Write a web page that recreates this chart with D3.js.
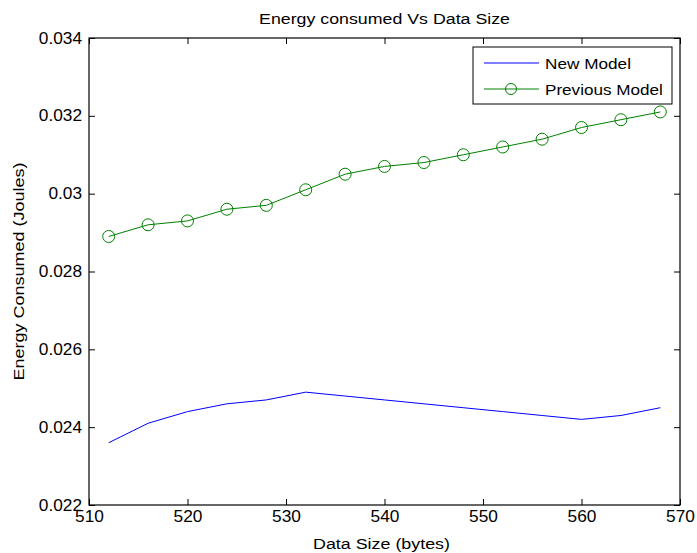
<!DOCTYPE html>
<html><head><meta charset="utf-8">
<script src="https://cdn.jsdelivr.net/npm/d3@7"></script>
<style>body{margin:0;background:#fff}svg{display:block}text{font-family:"Liberation Sans",Arial,sans-serif}</style>
</head><body>
<svg id="c" width="697" height="553"></svg>
<script>
const dataSize = [512,516,520,524,528,532,536,540,544,548,552,556,560,564,568];
const newModel = [0.0236,0.0241,0.0244,0.0246,0.0247,0.0249,0.0248,0.0247,0.0246,0.0245,0.0244,0.0243,0.0242,0.0243,0.0245];
const prevModel = [0.0289,0.0292,0.0293,0.0296,0.0297,0.0301,0.0305,0.0307,0.0308,0.0310,0.0312,0.0314,0.0317,0.0319,0.0321];
const xTicks = [510,520,530,540,550,560,570];
const yTicks = [0.022,0.024,0.026,0.028,0.030,0.032,0.034];
const yTickLabels = ["0.022","0.024","0.026","0.028","0.03","0.032","0.034"];
const seriesNames = ["New Model","Previous Model"];

const svg = d3.select("#c");
const L=89,R=680,T=38,B=505;
const x = d3.scaleLinear().domain([510,570]).range([L,R]);
const y = d3.scaleLinear().domain([0.022,0.034]).range([B,T]);

svg.append("rect").attr("x",L).attr("y",T).attr("width",R-L).attr("height",B-T).attr("fill","#fff");

const fs=16;
// horizontally stretch text glyphs to a target width (reference image is horizontally stretched)
function fitW(sel,w){sel.each(function(){const n=this.getComputedTextLength();const k=w/n;
  const t=d3.select(this);const xx=+t.attr("x")||0, yy=+t.attr("y")||0;
  t.attr("x",0).attr("y",0).attr("transform",`translate(${xx},${yy}) scale(${k},1)`);});}
function stretchK(sel,k){sel.each(function(){const t=d3.select(this);const xx=+t.attr("x")||0, yy=t.attr("dy");
  t.attr("transform",`scale(${k},1)`).attr("x",xx/k);});}

svg.append("g").attr("transform",`translate(0,${B})`).call(d3.axisBottom(x).tickValues(xTicks).tickSize(-6).tickPadding(6))
  .call(g=>{g.select(".domain").remove();g.selectAll("text").attr("font-size",fs).attr("fill","#000").attr("font-family","Liberation Sans, Arial, sans-serif").call(stretchK,1.08);});
svg.append("g").attr("transform",`translate(0,${T})`).call(d3.axisTop(x).tickValues(xTicks).tickSize(-6).tickFormat(""))
  .call(g=>g.select(".domain").remove());
svg.append("g").attr("transform",`translate(${L},0)`).call(d3.axisLeft(y).tickValues(yTicks).tickSize(-6).tickPadding(7).tickFormat((d,i)=>yTickLabels[i]))
  .call(g=>{g.select(".domain").remove();g.selectAll("text").attr("font-size",fs).attr("fill","#000").attr("font-family","Liberation Sans, Arial, sans-serif").call(stretchK,1.08);});
svg.append("g").attr("transform",`translate(${R},0)`).call(d3.axisRight(y).tickValues(yTicks).tickSize(-6).tickFormat(""))
  .call(g=>g.select(".domain").remove());
svg.selectAll(".tick line").attr("stroke","#000");
svg.append("rect").attr("x",L).attr("y",T).attr("width",R-L).attr("height",B-T).attr("fill","none").attr("stroke","#000").attr("stroke-width",1.2);

const line = d3.line().x((d,i)=>x(dataSize[i])).y(d=>y(d));
svg.append("path").datum(newModel).attr("d",line).attr("fill","none").attr("stroke","#0000ff").attr("stroke-width",1);
svg.append("path").datum(prevModel).attr("d",line).attr("fill","none").attr("stroke","#008000").attr("stroke-width",1);
svg.append("g").selectAll("circle").data(prevModel).join("circle")
  .attr("cx",(d,i)=>x(dataSize[i])).attr("cy",d=>y(d)).attr("r",6)
  .attr("fill","none").attr("stroke","#008000").attr("stroke-width",1);

// title and labels
svg.append("text").attr("x",(L+R)/2).attr("y",24).attr("text-anchor","middle").attr("font-size",14.5).text("Energy consumed Vs Data Size").call(fitW,251);
svg.append("text").attr("x",(L+R)/2-3).attr("y",549).attr("text-anchor","middle").attr("font-size",15).text("Data Size (bytes)").call(fitW,137);
svg.append("text").attr("x",0).attr("y",0).attr("transform",`translate(24,${(T+B)/2}) rotate(-90) scale(1.2,1)`).attr("text-anchor","middle").attr("font-size",15).text("Energy Consumed (Joules)");

// legend
const lg = svg.append("g");
lg.append("rect").attr("x",473).attr("y",47).attr("width",199).attr("height",57).attr("fill","#fff").attr("stroke","#000").attr("stroke-width",1);
const ly=[63,89], cols=["#0000ff","#008000"], lw=[86,118];
seriesNames.forEach((n,i)=>{
  lg.append("line").attr("x1",484).attr("x2",539).attr("y1",ly[i]).attr("y2",ly[i]).attr("stroke",cols[i]).attr("stroke-width",1);
  if(i===1) lg.append("circle").attr("cx",511).attr("cy",ly[i]).attr("r",5.5).attr("fill","none").attr("stroke",cols[i]);
  lg.append("text").attr("x",545).attr("y",ly[i]+5.5).attr("font-size",15).text(n).call(fitW,lw[i]);
});
</script>
</body></html>
